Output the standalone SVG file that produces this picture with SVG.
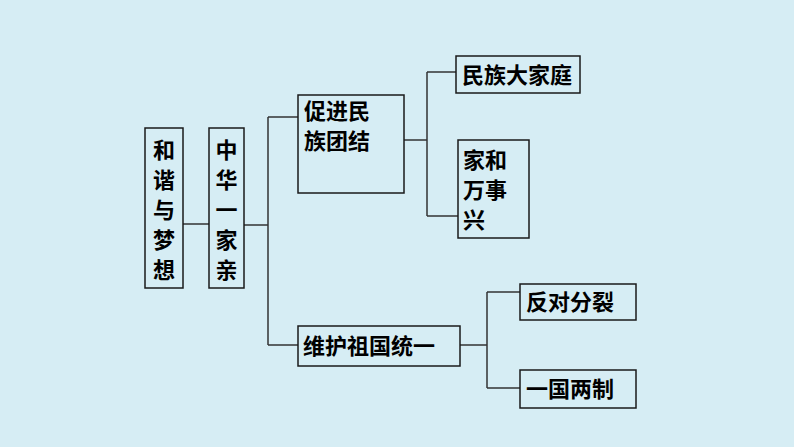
<svg xmlns="http://www.w3.org/2000/svg" width="794" height="447" viewBox="0 0 794 447">
<style>
.b{fill:none;stroke:#1a1a1a;stroke-width:1.5}
.c{fill:none;stroke:#333;stroke-width:1.5}
text{font-family:"Noto Sans CJK SC",sans-serif;font-size:22px;fill:#000;font-weight:600}
</style>
<rect width="794" height="447" fill="#d6edf4"/>
<g id="connectors">
<path class="c" d="M183 224H209M244 225H268M268 117V345M268 117H298M268 345H298M404 140H427M427 72V216M427 72H456M427 216H458M460 345H487M487 292V388M487 292H520M487 388H520"/>
</g>
<g id="n1"><rect class="b" x="145" y="128" width="38" height="160"/>
<text x="164" y="158" text-anchor="middle">和</text><text x="164" y="188" text-anchor="middle">谐</text><text x="164" y="218" text-anchor="middle">与</text><text x="164" y="248" text-anchor="middle">梦</text><text x="164" y="278" text-anchor="middle">想</text></g>
<g id="n2"><rect class="b" x="209" y="128" width="35" height="160"/>
<text x="226.5" y="158" text-anchor="middle">中</text><text x="226.5" y="188" text-anchor="middle">华</text><text x="226.5" y="218" text-anchor="middle">一</text><text x="226.5" y="248" text-anchor="middle">家</text><text x="226.5" y="278" text-anchor="middle">亲</text></g>
<g id="n3"><rect class="b" x="298" y="95" width="106" height="98"/>
<text x="304" y="119">促进民</text><text x="304" y="149">族团结</text></g>
<g id="n4"><rect class="b" x="298" y="326" width="162" height="40"/>
<text x="303" y="354">维护祖国统一</text></g>
<g id="n5"><rect class="b" x="456" y="56" width="124" height="37"/>
<text x="462" y="83">民族大家庭</text></g>
<g id="n6"><rect class="b" x="458" y="140" width="71" height="98"/>
<text x="463" y="168">家和</text><text x="463" y="198">万事</text><text x="463" y="228">兴</text></g>
<g id="n7"><rect class="b" x="520" y="284" width="116" height="36"/>
<text x="526" y="310">反对分裂</text></g>
<g id="n8"><rect class="b" x="520" y="370" width="116" height="38"/>
<text x="526" y="397">一国两制</text></g>
</svg>
